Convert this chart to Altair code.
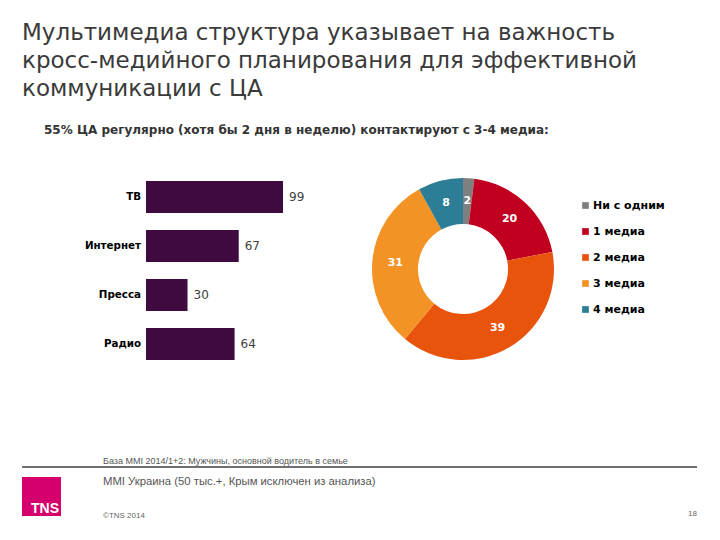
import altair as alt
import pandas as pd

# ---- data ----
bar_cats = ["ТВ", "Интернет", "Пресса", "Радио"]
bar_vals = [99, 67, 30, 64]

donut_keys = ["Ни с одним", "1 медиа", "2 медиа", "3 медиа", "4 медиа"]
donut_vals = [2, 20, 39, 31, 8]
donut_colors = ["#7F7F7F", "#C0001E", "#E9540D", "#F39325", "#2D7D96"]

title_lines = ["Мультимедиа структура указывает на важность",
               "кросс-медийного планирования для эффективной",
               "коммуникации с ЦА"]
subtitle = "55% ЦА регулярно (хотя бы 2 дня в неделю) контактируют с 3-4 медиа:"
base_note = "База MMI 2014/1+2: Мужчины, основной водитель в семье"
source_note = "MMI Украина (50 тыс.+, Крым исключен из анализа)"
copyright_note = "©TNS 2014"
page_no = "18"

bars_df = pd.DataFrame({"cat": bar_cats, "val": bar_vals})
donut_df = pd.DataFrame({"key": donut_keys, "val": donut_vals,
                         "ord": list(range(len(donut_keys)))})
one = pd.DataFrame({"d": [0]})

FONT = "DejaVu Sans"

# ---- bars ----
yscale = alt.Scale(domain=bar_cats, range=[164.5, 360.5],
                   paddingInner=0.347, paddingOuter=0.1735)
xscale = alt.Scale(domain=[0, 100], range=[138, 276.4])

bars = alt.Chart(bars_df).mark_bar(color="#3F0A40").encode(
    y=alt.Y("cat:N", scale=yscale, axis=None, sort=bar_cats),
    x=alt.X("val:Q", scale=xscale, axis=None),
)
bar_vals_txt = alt.Chart(bars_df).mark_text(
    align="left", baseline="middle", dx=6, fontSize=12, font=FONT, color="#404040"
).encode(
    y=alt.Y("cat:N", scale=yscale, axis=None, sort=bar_cats),
    x=alt.X("val:Q", scale=xscale, axis=None),
    text="val:Q",
)
bar_cat_txt = alt.Chart(bars_df).mark_text(
    align="right", baseline="middle", fontSize=10.3, fontWeight="bold", font=FONT, color="#000000"
).encode(
    y=alt.Y("cat:N", scale=yscale, axis=None, sort=bar_cats),
    x=alt.value(133),
    text="cat:N",
)

# ---- donut ----
cx, cy = 455, 261
donut = alt.Chart(donut_df).mark_arc(innerRadius=45, outerRadius=91).encode(
    theta=alt.Theta("val:Q", stack=True),
    order=alt.Order("ord:Q"),
    color=alt.Color("key:N", scale=alt.Scale(domain=donut_keys, range=donut_colors),
                    legend=alt.Legend(title=None, orient="none", legendX=572, legendY=192,
                                      symbolType="square", symbolSize=45,
                                      symbolStrokeWidth=0, labelFontSize=11,
                                      labelFontWeight="bold", labelFont=FONT,
                                      labelColor="#000000", labelOffset=2,
                                      rowPadding=14)),
    x=alt.value(cx), y=alt.value(cy),
)
donut_txt = alt.Chart(donut_df).mark_text(
    radius=68, fontSize=11, fontWeight="bold", font=FONT, color="white"
).encode(
    theta=alt.Theta("val:Q", stack=True),
    order=alt.Order("ord:Q"),
    text="val:Q",
    x=alt.value(cx), y=alt.value(cy),
)

# ---- annotations ----
title = alt.Chart(one).mark_text(
    align="left", baseline="alphabetic", fontSize=23, lineHeight=28, font=FONT, color="#3A3A3A"
).encode(x=alt.value(14), y=alt.value(32), text=alt.value(title_lines))

sub = alt.Chart(one).mark_text(
    align="left", baseline="alphabetic", fontSize=12, fontWeight="bold", font=FONT, color="#333333"
).encode(x=alt.value(36), y=alt.value(126), text=alt.value(subtitle))

base_t = alt.Chart(one).mark_text(
    align="left", baseline="alphabetic", fontSize=9, font="Liberation Sans", color="#555555"
).encode(x=alt.value(95), y=alt.value(456), text=alt.value(base_note))

rule = alt.Chart(one).mark_rule(color="#404040", strokeWidth=1.5).encode(
    x=alt.value(14), x2=alt.value(689), y=alt.value(459))

src_t = alt.Chart(one).mark_text(
    align="left", baseline="alphabetic", fontSize=11.3, font="Liberation Sans", color="#555555"
).encode(x=alt.value(95), y=alt.value(477), text=alt.value(source_note))

logo = alt.Chart(one).mark_rect(color="#D5006D").encode(
    x=alt.value(14), x2=alt.value(53), y=alt.value(469), y2=alt.value(508))
logo_t = alt.Chart(one).mark_text(
    align="right", baseline="alphabetic", fontSize=14, fontWeight="bold",
    font="Liberation Sans", color="white"
).encode(x=alt.value(51), y=alt.value(505), text=alt.value("TNS"))

copy_t = alt.Chart(one).mark_text(
    align="left", baseline="alphabetic", fontSize=8, font="Liberation Sans", color="#666666"
).encode(x=alt.value(95), y=alt.value(510), text=alt.value(copyright_note))

page_t = alt.Chart(one).mark_text(
    align="right", baseline="alphabetic", fontSize=8, font="Liberation Sans", color="#666666"
).encode(x=alt.value(689), y=alt.value(508), text=alt.value(page_no))

chart = alt.layer(
    title, sub, bars, bar_vals_txt, bar_cat_txt, donut, donut_txt,
    base_t, rule, src_t, logo, logo_t, copy_t, page_t
).properties(
    width=704, height=524, autosize="none", padding=0, background="white"
).configure_view(stroke=None)

chart.save("out.html", embed_options={"renderer": "svg", "actions": False})
